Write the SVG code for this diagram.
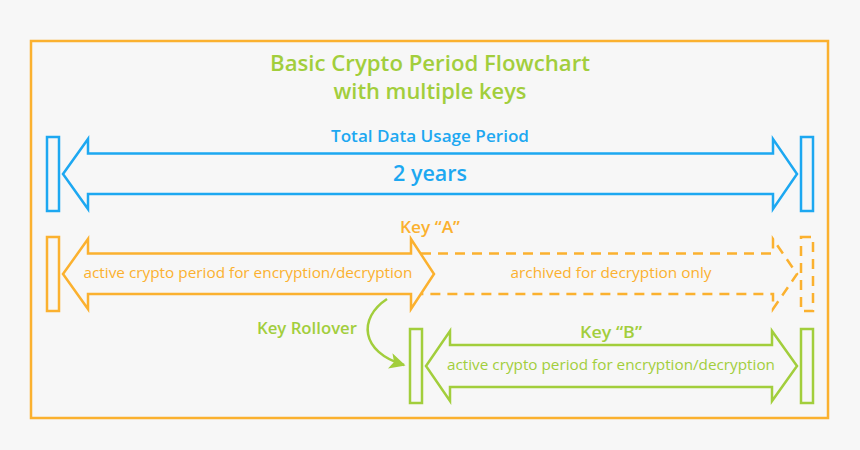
<svg xmlns="http://www.w3.org/2000/svg" width="860" height="450" viewBox="0 0 860 450">
  <style>
    text { font-family: "Open Sans", Lato, "Liberation Sans", sans-serif; text-anchor: middle; }
    .blue { stroke: #1DA8F1; fill: none; stroke-width: 2.5; }
    .orange { stroke: #FBB12F; fill: none; stroke-width: 2.5; }
    .green { stroke: #A2CE3C; fill: none; stroke-width: 2.5; }
    .dash { stroke-dasharray: 10 7; }
    .tb { fill: #1DA8F1; }
    .to { fill: #FBB12F; }
    .tg { fill: #A2CE3C; }
  </style>
  <defs>
    <marker id="ah" viewBox="0 0 10 10" refX="9" refY="5" markerWidth="17" markerHeight="16" markerUnits="userSpaceOnUse" orient="auto">
      <path d="M0,0 L10,5 L0,10 L2.5,5 z" fill="#A2CE3C"/>
    </marker>
  </defs>
  <rect x="0" y="0" width="860" height="450" fill="#F7F7F7"/>
  <rect id="frame" x="31" y="41" width="797" height="377" fill="none" stroke="#FBB12F" stroke-width="2.5"/>

  <g id="title">
    <text class="tg" x="430" y="71" font-size="21" font-weight="600" textLength="320" lengthAdjust="spacingAndGlyphs">Basic Crypto Period Flowchart</text>
    <text class="tg" x="430" y="99" font-size="21" font-weight="600" textLength="193" lengthAdjust="spacingAndGlyphs">with multiple keys</text>
  </g>

  <g id="total">
    <rect class="blue" x="47" y="137" width="12" height="74"/>
    <rect class="blue" x="801" y="137" width="12" height="74"/>
    <path class="blue" d="M63,174 L88,139 L88,153.5 L773,153.5 L773,139 L797,174 L773,209 L773,194 L88,194 L88,209 Z"/>
    <text class="tb" x="430" y="142" font-size="16.5" font-weight="600" textLength="198" lengthAdjust="spacingAndGlyphs">Total Data Usage Period</text>
    <text class="tb" x="430" y="181" font-size="21" font-weight="600" textLength="74" lengthAdjust="spacingAndGlyphs">2 years</text>
  </g>

  <g id="keyA">
    <rect class="orange" x="47" y="237" width="12" height="74"/>
    <path class="orange" d="M63,274 L88,239 L88,253.5 L411,253.5 L411,239 L434,274 L411,309 L411,294 L88,294 L88,309 Z"/>
    <text class="to" x="430" y="233" font-size="16.5" font-weight="600" textLength="60" lengthAdjust="spacingAndGlyphs">Key “A”</text>
    <text class="to" x="248" y="278" font-size="14.5" textLength="329" lengthAdjust="spacingAndGlyphs">active crypto period for encryption/decryption</text>
  </g>

  <g id="keyA-archive">
    <path class="orange dash" d="M421,253.5 L773,253.5 L773,239 L797,274 L773,309 L773,294 L421,294"/>
    <rect class="orange dash" x="801" y="237" width="12" height="74"/>
    <text class="to" x="611" y="278" font-size="14.5" textLength="201" lengthAdjust="spacingAndGlyphs">archived for decryption only</text>
  </g>

  <g id="keyB">
    <rect class="green" x="410" y="329" width="12" height="74"/>
    <rect class="green" x="801" y="329" width="12" height="74"/>
    <path class="green" d="M426,366 L450,331 L450,345 L772,345 L772,331 L797,366 L772,401 L772,387 L450,387 L450,401 Z"/>
    <text class="tg" x="611" y="338" font-size="16.5" font-weight="600" textLength="62" lengthAdjust="spacingAndGlyphs">Key “B”</text>
    <text class="tg" x="611" y="370" font-size="14.5" textLength="328" lengthAdjust="spacingAndGlyphs">active crypto period for encryption/decryption</text>
  </g>

  <g id="connectors">
    <path class="green" d="M387,299 C358,318 360,352 404,365" marker-end="url(#ah)"/>
    <text class="tg" x="307" y="334" font-size="16" font-weight="600" textLength="100" lengthAdjust="spacingAndGlyphs">Key Rollover</text>
  </g>
</svg>
